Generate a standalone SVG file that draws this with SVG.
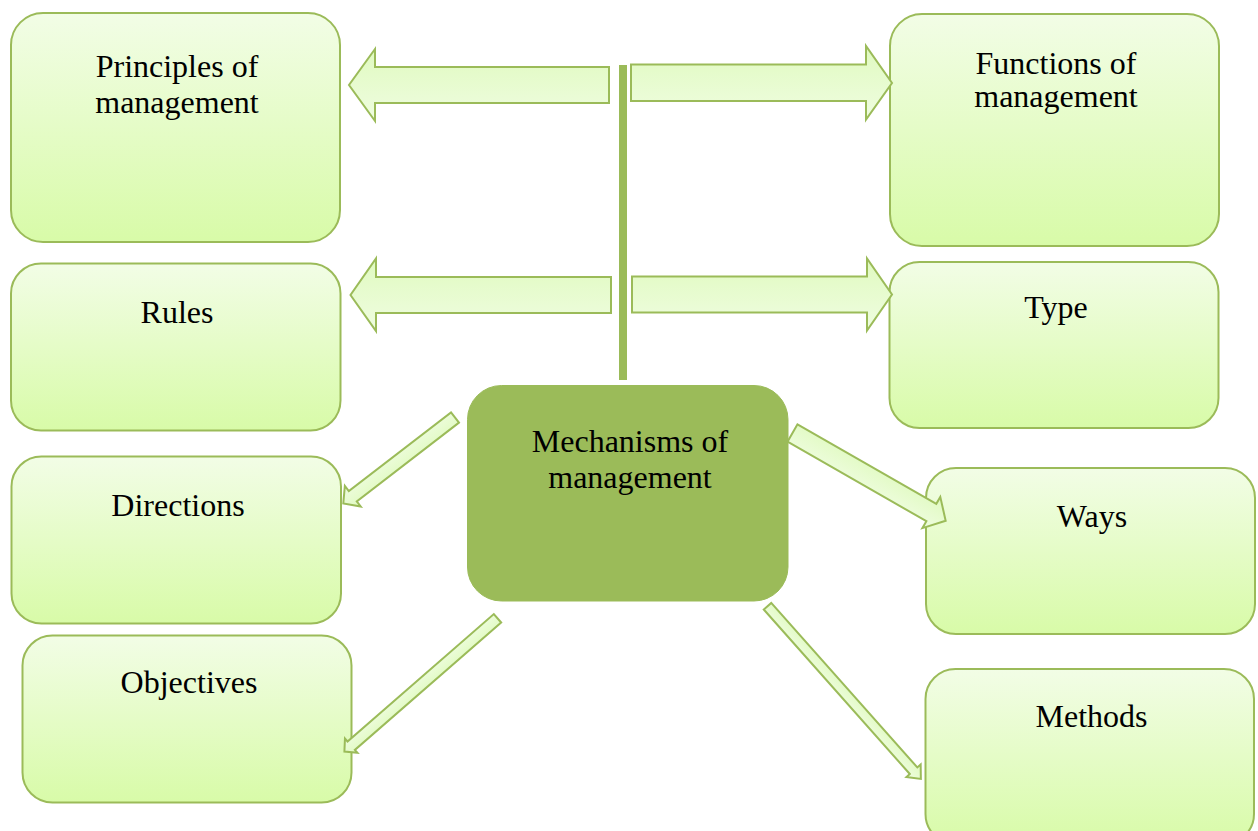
<svg xmlns="http://www.w3.org/2000/svg" width="1258" height="831" viewBox="0 0 1258 831">
<defs>
<linearGradient id="boxGrad" x1="0" y1="0" x2="0" y2="1">
<stop offset="0" stop-color="#f2fde6"/>
<stop offset="1" stop-color="#d8fba8"/>
</linearGradient>
<linearGradient id="arrGrad" x1="0" y1="0" x2="0" y2="1">
<stop offset="0" stop-color="#e0fac0"/>
<stop offset="1" stop-color="#effde0"/>
</linearGradient>
</defs>
<style>
.box{fill:url(#boxGrad);stroke:#9bbb59;stroke-width:2}
.center{fill:#9bbb59;stroke:#9bbb59;stroke-width:1}
.arr{fill:url(#arrGrad);stroke:#9bbb59;stroke-width:2;stroke-linejoin:miter}
.lbl{font-family:"Liberation Serif","Times New Roman",serif;font-size:32px;fill:#000;text-anchor:middle}
</style>
<rect width="1258" height="831" fill="#ffffff"/>

<g id="node-principles">
<rect class="box" x="11" y="13" width="329" height="229" rx="32" ry="32"/>
<text class="lbl" x="177" y="77">Principles of</text>
<text class="lbl" x="177" y="113">management</text>
</g>
<g id="node-functions">
<rect class="box" x="890" y="14" width="329" height="232" rx="32" ry="32"/>
<text class="lbl" x="1056" y="74">Functions of</text>
<text class="lbl" x="1056" y="107">management</text>
</g>
<g id="node-rules">
<rect class="box" x="11" y="263.5" width="329.5" height="167" rx="30" ry="30"/>
<text class="lbl" x="177" y="323">Rules</text>
</g>
<g id="node-type">
<rect class="box" x="889.5" y="262" width="329" height="166" rx="30" ry="30"/>
<text class="lbl" x="1056" y="318">Type</text>
</g>
<g id="node-directions">
<rect class="box" x="11.5" y="456.5" width="329.5" height="167" rx="30" ry="30"/>
<text class="lbl" x="178" y="515.5">Directions</text>
</g>
<g id="node-objectives">
<rect class="box" x="22.5" y="635.5" width="329" height="167" rx="30" ry="30"/>
<text class="lbl" x="189" y="693">Objectives</text>
</g>
<g id="node-ways">
<rect class="box" x="926" y="468" width="329" height="166" rx="30" ry="30"/>
<text class="lbl" x="1092" y="526.5">Ways</text>
</g>
<g id="node-methods">
<rect class="box" x="925.5" y="669" width="328.5" height="175" rx="30" ry="30"/>
<text class="lbl" x="1091.5" y="726.5">Methods</text>
</g>
<g id="node-mechanisms">
<rect class="center" x="467.5" y="385.5" width="320.5" height="215.5" rx="34" ry="34"/>
<text class="lbl" x="630" y="451.5">Mechanisms of</text>
<text class="lbl" x="630" y="488">management</text>
</g>

<g id="connectors">
<rect x="619" y="65" width="8" height="315" fill="#9bbb59"/>
<polygon class="arr" points="609,67 375,67 375,49 349,85 375,121 375,103 609,103"/>
<polygon class="arr" points="631,64.5 866,64.5 866,46 892,83 866,119.5 866,101 631,101"/>
<polygon class="arr" points="611,277 376,277 376,258.5 350.5,295 376,331 376,313 611,313"/>
<polygon class="arr" points="632,276.5 867,276.5 867,258.5 892,294.5 867,330.5 867,312.5 632,312.5"/>
<g transform="translate(455,417.5) rotate(142.4)">
<polygon class="arr" points="0,-6.5 129,-6.5 129,-13 141,0 129,13 129,6.5 0,6.5"/>
</g>
<g transform="translate(792.5,433) rotate(29.8)">
<polygon class="arr" points="0,-10 160,-10 160,-18 176.5,0 160,18 160,10 0,10"/>
</g>
<g transform="translate(497.5,618.3) rotate(138.95)">
<polygon class="arr" points="0,-5.6 194,-5.6 194,-9.5 203,0 194,9.5 194,5.6 0,5.6"/>
</g>
<g transform="translate(767.5,606.2) rotate(48.4)">
<polygon class="arr" points="0,-5 220,-5 220,-9.5 231,0 220,9.5 220,5 0,5"/>
</g>
</g>
</svg>
